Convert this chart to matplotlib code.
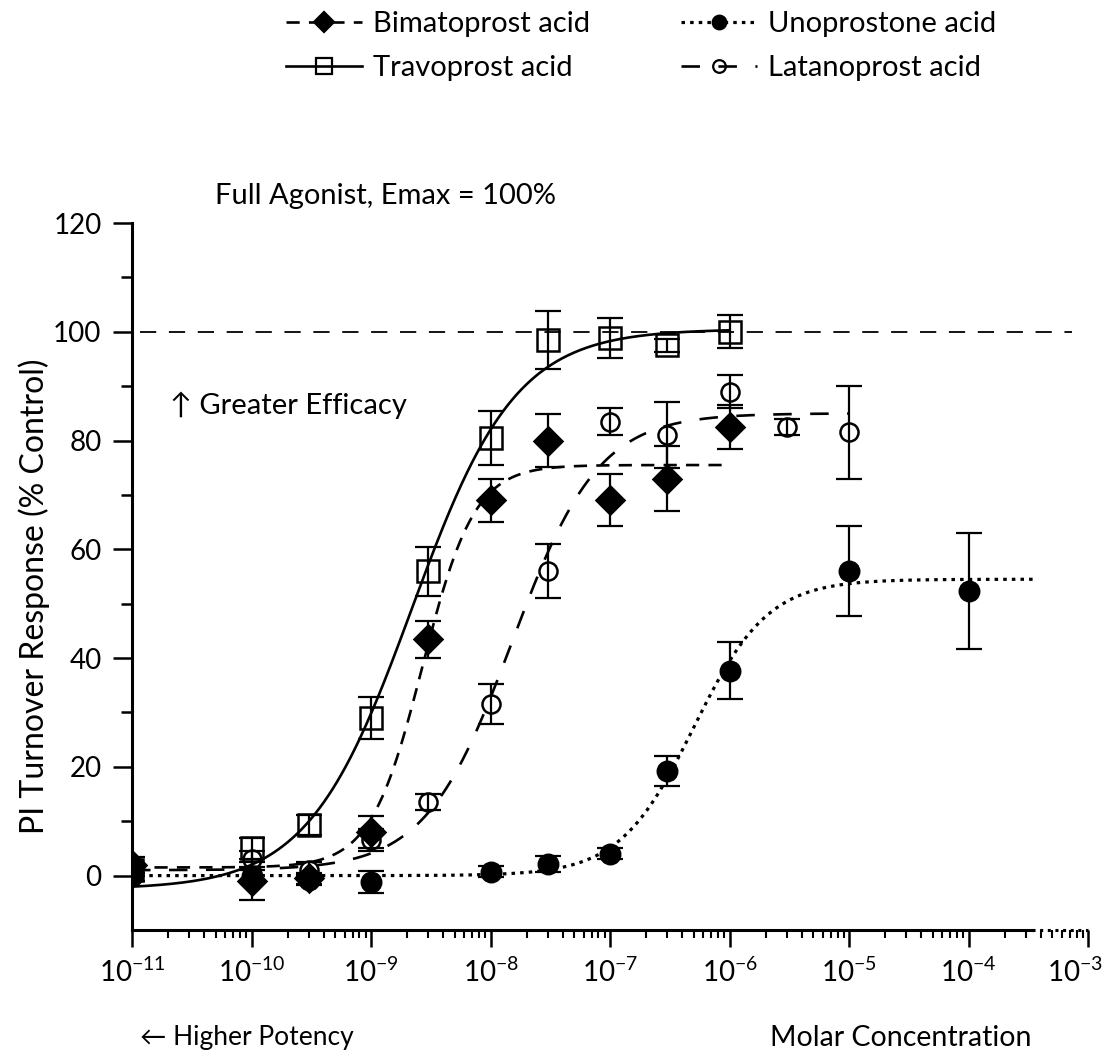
import numpy as np
import matplotlib
matplotlib.use("Agg")
import matplotlib.pyplot as plt
import matplotlib.transforms as mtransforms
from matplotlib.lines import Line2D
from matplotlib.ticker import FixedLocator, FuncFormatter, NullFormatter

plt.rcParams['font.family'] = ['Lato', 'DejaVu Sans']
plt.rcParams['mathtext.default'] = 'regular'

# Measured responses (% control) and SEM at each molar concentration
trav_x = [1e-11, 1e-10, 3e-10, 1e-9, 3e-9, 1e-8, 3e-8, 1e-7, 3e-7, 1e-6]
trav_y = [1.0, 5.0, 9.3, 29.0, 56.0, 80.5, 98.5, 98.8, 97.5, 100.0]
trav_err = [1.0, 2.0, 1.8, 3.8, 4.5, 5.0, 5.3, 3.7, 1.2, 3.0]

bima_x = [1e-11, 1e-10, 3e-10, 1e-9, 3e-9, 1e-8, 3e-8, 1e-7, 3e-7, 1e-6]
bima_y = [2.0, -1.0, -0.5, 8.0, 43.5, 69.0, 80.0, 69.0, 73.0, 82.5]
bima_err = [1.5, 3.5, 1.0, 3.0, 3.4, 4.0, 4.8, 4.8, 6.0, 4.0]

lat_x = [1e-11, 1e-10, 3e-10, 1e-9, 3e-9, 1e-8, 3e-8, 1e-7, 3e-7, 1e-6, 3e-6, 1e-5]
lat_y = [1.0, 3.0, 1.0, 6.5, 13.5, 31.5, 56.0, 83.5, 81.0, 89.0, 82.5, 81.5]
lat_err = [1.0, 1.5, 1.5, 2.0, 1.5, 3.7, 5.0, 2.4, 6.0, 3.0, 1.5, 8.5]

uno_x = [1e-11, 1e-10, 3e-10, 1e-9, 1e-8, 3e-8, 1e-7, 3e-7, 1e-6, 1e-5, 1e-4]
uno_y = [0.0, 0.0, -0.8, -1.2, 0.7, 2.2, 4.0, 19.2, 37.7, 56.0, 52.3]
uno_err = [1.0, 1.0, 1.0, 2.0, 1.0, 1.5, 1.0, 2.8, 5.2, 8.3, 10.7]

# Sigmoidal fit parameters: bottom, top, log EC50, Hill slope, log x-range of the curve
trav_fit = [-2.5, 100.5, -8.66, 1.0, (-11, -6)]
bima_fit = [1.5, 75.5, -8.57, 2.0, (-11, -6)]
lat_fit = [1.0, 85.0, -7.82, 1.2, (-11, -5)]
uno_fit = [0.0, 54.5, -6.30, 1.4, (-11, -3.44)]

labels = ['Bimatoprost acid', 'Travoprost acid', 'Unoprostone acid', 'Latanoprost acid']
decades = [1e-11, 1e-10, 1e-9, 1e-8, 1e-7, 1e-6, 1e-5, 1e-4, 1e-3]
y_major = [0, 20, 40, 60, 80, 100, 120]
y_minor = [10, 30, 50, 70, 90, 110]


def logistic(fit):
    bottom, top, logec50, hill, (lo, hi) = fit
    lx = np.linspace(lo, hi, 400)
    y = bottom + (top - bottom) / (1 + 10 ** ((logec50 - lx) * hill))
    return 10 ** lx, y


fig = plt.figure(figsize=(11.05, 10.59), dpi=100)
ax = fig.add_axes([0.1195, 0.1218, 0.8652, 0.6676])

lw = 1.9
styles = {
    'bima': dict(ls=(0, (5, 3.5)), marker='D', ms=14.5, mfc='black', lw=lw),
    'trav': dict(ls='-', marker='s', ms=16, mfc='none', lw=lw),
    'uno': dict(ls=(0, (1.1, 1.6)), marker='o', ms=14, mfc='black', lw=2.3),
    'lat': dict(ls=(0, (7, 7)), marker='o', ms=13, mfc='none', lw=lw),
}
series = [
    ('bima', bima_x, bima_y, bima_err, bima_fit),
    ('trav', trav_x, trav_y, trav_err, trav_fit),
    ('uno', uno_x, uno_y, uno_err, uno_fit),
    ('lat', lat_x, lat_y, lat_err, lat_fit),
]

for key, xs, ys, es, fit in series:
    st = styles[key]
    cx, cy = logistic(fit)
    ax.plot(cx, cy, color='black', lw=st['lw'], ls=st['ls'], zorder=2)
    ax.errorbar(xs, ys, yerr=es, fmt='none', ecolor='black', elinewidth=1.6,
                capsize=9.5, capthick=1.6, zorder=3)
    ax.plot(xs, ys, ls='none', marker=st['marker'], ms=st['ms'], mfc=st['mfc'],
            mec='black', mew=1.8, zorder=4)

# 100 % reference
ax.axhline(100, xmin=0.008, xmax=0.983, color='black', lw=1.3, ls=(0, (9, 7)), zorder=1)

ax.set_xscale('log')
ax.set_xlim(1e-11, 1e-3)
ax.set_ylim(-10, 120)

for s in ['top', 'right']:
    ax.spines[s].set_visible(False)
ax.spines['left'].set_linewidth(2.2)
ax.spines['bottom'].set_linewidth(2.2)
ax.spines['bottom'].set_bounds(1e-11, 10 ** -3.47)
# dotted continuation of the concentration axis
ax.plot([10 ** -3.47, 1e-3], [-10, -10], color='black', lw=2.2, ls=(0, (1, 1.5)),
        clip_on=False, zorder=5)

minor = [d * k for d in decades[:-1] for k in range(2, 10)]
ax.xaxis.set_major_locator(FixedLocator(decades))
ax.xaxis.set_minor_locator(FixedLocator(minor))
ax.xaxis.set_major_formatter(FuncFormatter(lambda v, p: r'$\mathregular{10^{%d}}$' % round(np.log10(v))))
ax.xaxis.set_minor_formatter(NullFormatter())
ax.yaxis.set_major_locator(FixedLocator(y_major))
ax.yaxis.set_minor_locator(FixedLocator(y_minor))

ax.tick_params(axis='both', which='major', labelsize=20, width=1.8, direction='out')
ax.tick_params(axis='x', which='major', length=12, pad=8)
ax.tick_params(axis='x', which='minor', length=6, width=1.5)
ax.tick_params(axis='y', which='major', length=14, pad=8)
ax.tick_params(axis='y', which='minor', length=8, width=1.8)

# keep the last decade label inside the figure
last = ax.xaxis.get_major_ticks()[-1].label1
last.set_transform(last.get_transform() + mtransforms.ScaledTranslation(-0.13, 0, fig.dpi_scale_trans))

ax.set_ylabel('PI Turnover Response (% Control)', fontsize=23)
ax.yaxis.set_label_coords(-0.086, 0.472)

ax.text(10 ** -10.31, 125, 'Full Agonist, Emax = 100%', fontsize=21, va='center', ha='left', clip_on=False)
ax.text(10 ** -10.68, 86.5, '\u2191 Greater Efficacy', fontsize=21, va='center', ha='left')
fig.text(0.127, 0.02, '\u2190 Higher Potency', fontsize=19, ha='left', va='center')
fig.text(0.697, 0.02, 'Molar Concentration', fontsize=20.5, ha='left', va='center')

# legend: line style of each fit plus its marker
handles = []
for key, *_ in series:
    st = styles[key]
    handles.append(Line2D([], [], color='black', lw=st['lw'], ls=st['ls'], marker=st['marker'],
                          ms=st['ms'] * 0.7, mfc=st['mfc'], mec='black', mew=1.6))
fig.legend(handles, labels, ncol=2, loc='upper left', bbox_to_anchor=(0.235, 1.014),
           frameon=False, fontsize=21, handlelength=2.6, handletextpad=0.4,
           columnspacing=3.1, labelspacing=0.6)

fig.savefig('out.png', dpi=100)
